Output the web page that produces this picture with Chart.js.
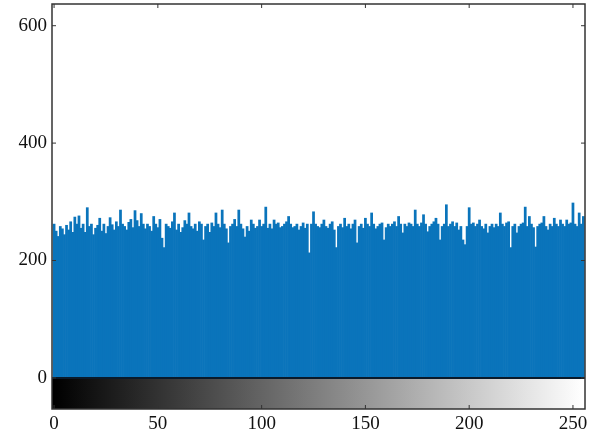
<!DOCTYPE html>
<html>
<head>
<meta charset="utf-8">
<script src="https://cdn.jsdelivr.net/npm/chart.js@4.4.1/dist/chart.umd.min.js"></script>
<style>
html,body{margin:0;padding:0;background:#fff;}
#wrap{width:601px;height:441px;position:relative;}
</style>
</head>
<body>
<div id="wrap"><canvas id="c" width="601" height="441"></canvas></div>
<script>
// gray levels 0..255
const grayLevels = Array.from({length:256}, (_, i) => i);
// pixel counts
const counts = [
262,250,241,258,254,244,260,252,266,248,274,262,276,255,262,248,
290,258,262,244,255,260,272,250,262,246,258,273,261,252,266,258,
286,262,258,252,265,270,256,285,268,258,280,262,254,262,258,250,
275,262,256,270,238,222,262,258,255,266,281,252,262,248,256,268,
262,281,258,254,262,250,266,262,235,258,262,248,264,258,281,262,
256,286,262,254,230,258,262,270,258,286,262,254,240,258,250,269,
262,255,258,269,258,262,291,255,262,254,269,262,264,256,258,262,
266,275,262,256,258,262,252,258,264,255,262,213,262,283,262,258,
256,262,269,258,255,262,266,252,222,258,262,256,272,258,262,254,
262,269,230,258,262,255,272,262,258,281,262,254,258,262,264,235,
256,262,258,262,266,258,275,262,247,262,258,264,262,258,286,262,
258,264,278,262,249,258,262,266,272,262,235,258,262,295,258,262,
266,258,264,252,258,235,227,258,290,262,264,258,262,269,258,254,
262,247,258,262,256,262,258,281,262,258,264,266,222,258,262,247,
258,262,264,291,258,275,262,256,223,258,262,264,275,258,252,262,
258,272,262,258,269,262,258,269,262,264,298,262,258,281,262,275
];
const xTicks = [0,50,100,150,200,250];
const yTicks = [0,200,400,600];

const frame = {
  id:'frame',
  beforeDatasetsDraw(chart){
    const {ctx, chartArea:a, scales:{x,y}} = chart;
    const top = y.getPixelForValue(0);
    const g = ctx.createLinearGradient(x.getPixelForValue(0),0,x.getPixelForValue(255),0);
    g.addColorStop(0,'#000000');
    g.addColorStop(1,'#ffffff');
    ctx.save();
    ctx.fillStyle = g;
    ctx.fillRect(a.left, top, a.right-a.left, a.bottom-top);
    ctx.restore();
  },
  afterDatasetsDraw(chart){
    const {ctx, chartArea:a, scales:{x,y}} = chart;
    const top = y.getPixelForValue(0);
    ctx.save();
    ctx.strokeStyle = '#0a1a2a';
    ctx.lineWidth = 2;
    ctx.beginPath();
    ctx.moveTo(a.left, top); ctx.lineTo(a.right, top);
    ctx.stroke();
    ctx.strokeStyle = '#333';
    ctx.lineWidth = 1.5;
    ctx.strokeRect(a.left, a.top, a.right-a.left, a.bottom-a.top);
    ctx.lineWidth = 1;
    ctx.beginPath();
    const L = 4;
    xTicks.forEach(v => {
      const px = x.getPixelForValue(v);
      ctx.moveTo(px, a.bottom); ctx.lineTo(px, a.bottom-L);
      ctx.moveTo(px, a.top); ctx.lineTo(px, a.top+L);
    });
    yTicks.forEach(v => {
      const py = y.getPixelForValue(v);
      ctx.moveTo(a.left, py); ctx.lineTo(a.left+L, py);
      ctx.moveTo(a.right, py); ctx.lineTo(a.right-L, py);
    });
    ctx.stroke();
    ctx.restore();
  }
};

new Chart(document.getElementById('c'), {
  type:'bar',
  data:{
    datasets:[{
      data: grayLevels.map((g,i)=>({x:g, y:counts[i]})),
      backgroundColor:'#0a74bb',
      borderWidth:0,
      barPercentage:1,
      categoryPercentage:1
    }]
  },
  options:{
    responsive:false,
    animation:false,
    devicePixelRatio:1,
    layout:{padding:{left:0,right:16,top:4,bottom:0}},
    plugins:{legend:{display:false},tooltip:{enabled:false}},
    scales:{
      x:{
        type:'linear',
        offset:false,
        min:-1, max:255.8,
        afterBuildTicks(s){ s.ticks = xTicks.map(v=>({value:v})); },
        afterFit(s){ s.height = 32; s.paddingLeft = 0; s.paddingRight = 0; },
        grid:{display:false, drawTicks:false, offset:false},
        border:{display:false},
        ticks:{color:'#111', font:{family:'Liberation Serif', size:19}, padding:4, maxRotation:0}
      },
      y:{
        min:-53, max:637,
        afterBuildTicks(s){ s.ticks = yTicks.map(v=>({value:v})); },
        afterFit(s){ s.width = 52; s.paddingTop = 0; s.paddingBottom = 0; },
        grid:{display:false, drawTicks:false},
        border:{display:false},
        ticks:{color:'#111', font:{family:'Liberation Serif', size:19}, padding:5}
      }
    }
  },
  plugins:[frame]
});
</script>
</body>
</html>
